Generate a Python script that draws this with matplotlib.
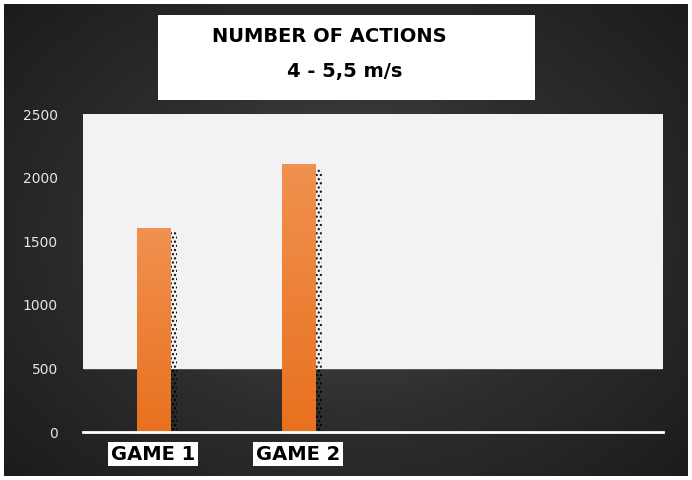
import matplotlib.pyplot as plt
import numpy as np
from matplotlib.colors import LinearSegmentedColormap
from matplotlib.patches import Rectangle

games = ['GAME 1', 'GAME 2']
actions = [1600, 2100]
yticks = [0, 500, 1000, 1500, 2000, 2500]

fig = plt.figure(figsize=(6.92, 4.80), dpi=100)
fig.patch.set_facecolor('white')

# dark radial background
bg = fig.add_axes([0.006, 0.008, 0.988, 0.984])
yy, xx = np.mgrid[-1:1:200j, -1:1:300j]
r = np.sqrt(xx**2 + (yy * 0.9)**2)
dark = LinearSegmentedColormap.from_list('d', ['#4d4d4d', '#2e2e2e', '#1c1c1c'])
bg.imshow(r, cmap=dark, vmin=0, vmax=1.35, aspect='auto', extent=[0, 1, 0, 1])
bg.set_axis_off()

ax = fig.add_axes([0.12, 0.1, 0.838, 0.6625])
ax.set_facecolor('none')
ax.axhspan(500, 2500, color='#f2f2f2', zorder=0)

orange = LinearSegmentedColormap.from_list('o', ['#e8711f', '#f0914f'])
x = np.arange(len(games))
w = 0.234
for xi, v in zip(x, actions):
    # dotted shadow on the right
    ax.bar(xi + 0.04, v - 30, width=w, bottom=0, color='none', edgecolor='black',
           hatch='....', linewidth=0, zorder=1)
    grad = np.linspace(0, 1, 100).reshape(-1, 1)
    ax.imshow(grad, cmap=orange, extent=[xi - w / 2, xi + w / 2, 0, v],
              origin='lower', aspect='auto', zorder=2)

ax.set_xlim(-0.49, 3.51)
ax.set_ylim(0, 2500)
ax.set_yticks(yticks)
ax.tick_params(axis='y', colors='#e6e6e6', labelsize=10, length=0, pad=18)
ax.set_xticks([])
for s in ['top', 'right', 'left']:
    ax.spines[s].set_visible(False)
ax.spines['bottom'].set_color('white')
ax.spines['bottom'].set_linewidth(2)

label_x = [153 / 692, 298 / 692]
for lx, g in zip(label_x, games):
    fig.text(lx, 1 - 454 / 480, g, ha='center', va='center', fontsize=14,
             fontweight='bold', color='black',
             bbox=dict(facecolor='white', edgecolor='none', pad=2))

fig.patches.append(Rectangle((158 / 692, 1 - 100 / 480), 377 / 692, 85 / 480,
                             transform=fig.transFigure, facecolor='white', zorder=5))
fig.text(329 / 692, 1 - 37 / 480, 'NUMBER OF ACTIONS', ha='center', va='center',
         fontsize=14, fontweight='bold', zorder=6)
fig.text(345 / 692, 1 - 72 / 480, '4 - 5,5 m/s', ha='center', va='center',
         fontsize=14, fontweight='bold', zorder=6)

plt.savefig('out.png', dpi=100)
